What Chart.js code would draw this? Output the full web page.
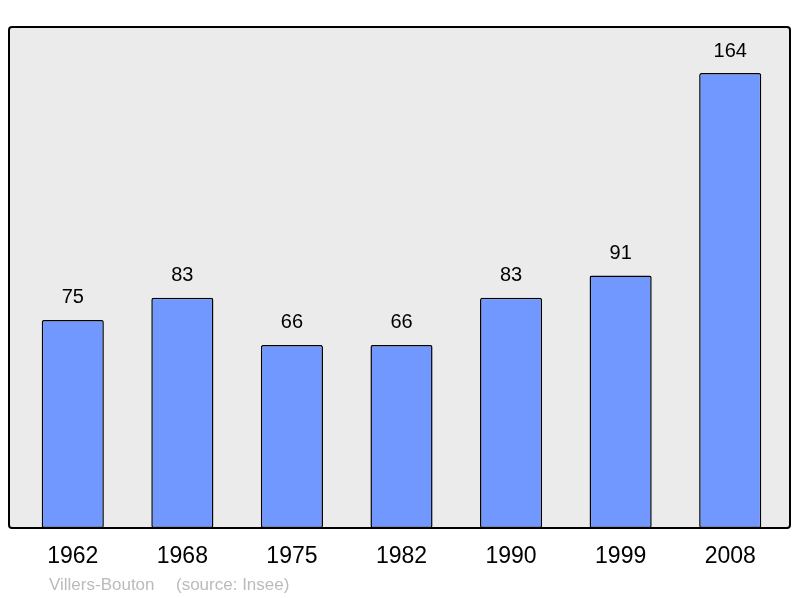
<!DOCTYPE html>
<html>
<head>
<meta charset="utf-8">
<script src="https://cdn.jsdelivr.net/npm/chart.js@4"></script>
<style>
  html, body { margin: 0; padding: 0; background: #fff; }
  #wrap { width: 800px; height: 598px; position: relative; }
</style>
</head>
<body>
<div id="wrap"><canvas id="grafico" width="800" height="598"></canvas></div>
<script>
// dados da população
const annees = ["1962", "1968", "1975", "1982", "1990", "1999", "2008"];
const population = [75, 83, 66, 66, 83, 91, 164];
const commune = "Villers-Bouton";
const source = "(source: Insee)";

const police = "'Liberation Sans', Arial, sans-serif";

// fundo cinza com borda + rótulos
const cadre = {
  id: "cadre",
  beforeDatasetsDraw(chart) {
    const { ctx, chartArea: a } = chart;
    ctx.save();
    ctx.fillStyle = "#ebebeb";
    ctx.strokeStyle = "#000";
    ctx.lineWidth = 2;
    ctx.beginPath();
    ctx.roundRect(a.left - 9, a.top, a.right - a.left + 14, a.bottom - a.top, 3);
    ctx.fill();
    ctx.stroke();
    ctx.restore();
  },
  afterDatasetsDraw(chart) {
    const { ctx, chartArea: a } = chart;
    const meta = chart.getDatasetMeta(0);
    ctx.save();
    ctx.fillStyle = "#000";
    ctx.textAlign = "center";
    ctx.textBaseline = "middle";
    meta.data.forEach((bar, i) => {
      ctx.font = "20px " + police;
      ctx.fillText(String(population[i]), bar.x, bar.y - 22);
      ctx.font = "23px " + police;
      ctx.fillText(annees[i], bar.x, a.bottom + 29);
    });
    ctx.fillStyle = "#bbbbbb";
    ctx.font = "17px " + police;
    ctx.textAlign = "left";
    ctx.fillText(commune, 49, 585);
    ctx.fillText(source, 176, 585);
    ctx.restore();
  }
};

new Chart(document.getElementById("grafico").getContext("2d"), {
  type: "bar",
  data: {
    labels: annees,
    datasets: [{
      data: population,
      backgroundColor: "#7098ff",
      borderColor: "#000",
      borderWidth: 1.5,
      borderRadius: 2,
      borderSkipped: false,
      categoryPercentage: 0.567,
      barPercentage: 1
    }]
  },
  options: {
    responsive: false,
    animation: false,
    layout: { padding: { left: 18, right: 15, top: 27, bottom: 70 } },
    plugins: { legend: { display: false }, tooltip: { enabled: false } },
    scales: {
      x: { display: false },
      y: { display: false, min: 0, max: 180.6 }
    }
  },
  plugins: [cadre]
});
</script>
</body>
</html>
